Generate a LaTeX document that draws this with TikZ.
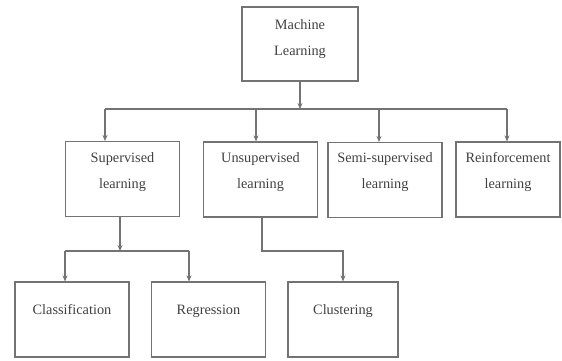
\documentclass[tikz,border=0pt]{standalone}
\usepackage{fontspec}
\setmainfont{Liberation Serif}
\usetikzlibrary{arrows.meta}

\tikzset{
  box/.style={draw=black!55,line width=1.1pt,minimum width=114pt,minimum height=75pt,inner sep=0pt},
  txt/.style={text=black!75,align=center,inner sep=0pt,font=\fontsize{14.3}{26}\selectfont},
  link/.style={draw=black!55,line width=1.1pt},
  arrow/.style={link,-{Stealth[length=6pt,width=5pt]}}
}

\begin{document}
\begin{tikzpicture}[x=1pt,y=-1pt]
\useasboundingbox (0,0) rectangle (562,360);
% frames
\node[box,minimum width=116pt,minimum height=74pt] (ml) at (300,44) {};
\node[box] (sup) at (122.5,179) {};
\node[box] (uns) at (260.5,179.5) {};
\node[box] (semi) at (385,180) {};
\node[box,minimum width=104pt] (rein) at (508,179.5) {};
\node[box] (cla) at (72,319.5) {};
\node[box] (reg) at (208.5,319.5) {};
\node[box,minimum width=110pt] (clu) at (343,319.5) {};
% texts
\node[txt] (mlt) at (300,39) {Machine\\Learning};
\node[txt] (supt) at (122.5,172) {Supervised\\learning};
\node[txt] (unst) at (260.5,172) {Unsupervised\\learning};
\node[txt] (semit) at (385,172) {Semi-supervised\\learning};
\node[txt] (reint) at (508,172) {Reinforcement\\learning};
\node[txt,anchor=base] (clat) at (72,314.5) {Classification};
\node[txt,anchor=base] (regt) at (208.5,314.5) {Regression};
\node[txt,anchor=base] (clut) at (343,314.5) {Clustering};
% bus points
\coordinate (d1) at (105,109);
\coordinate (d2) at (256,109);
\coordinate (d3) at (379,109);
\coordinate (d4) at (507,109);
\coordinate (e1) at (65,251);
\coordinate (e2) at (189,251);
% connectors
\draw[arrow] (ml.south) -- (ml.south |- d1);
\draw[link] (d1) -- (d4);
\draw[arrow] (d1) -- (d1 |- sup.north);
\draw[arrow] (d2) -- (d2 |- uns.north);
\draw[arrow] (d3) -- (d3 |- semi.north);
\draw[arrow] (d4) -- (d4 |- rein.north);
\draw[arrow] ([xshift=-2.5pt]sup.south) -- ([xshift=-2.5pt]sup.south |- e1);
\draw[link] (e1) -- (e2);
\draw[arrow] (e1) -- (e1 |- cla.north);
\draw[arrow] (e2) -- (e2 |- reg.north);
\draw[arrow] ([xshift=1.5pt]uns.south) |- (clu.north |- e1) -- (clu.north);
\end{tikzpicture}
\end{document}
